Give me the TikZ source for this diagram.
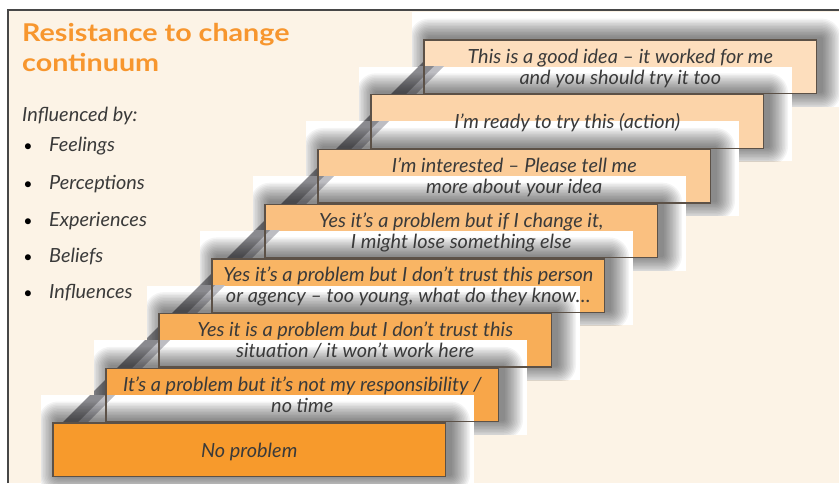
\documentclass[tikz,border=0pt]{standalone}
\usepackage{fontspec}
\setmainfont{Lato}
\newfontfamily\stepfont{Lato}[FakeStretch=1.02]
\newfontfamily\headfont{Lato}[FakeStretch=1.17]

\definecolor{cream}{HTML}{FCF3E6}
\definecolor{panelgray}{HTML}{474747}
\definecolor{edgebrown}{HTML}{5C5147}
\definecolor{inkgray}{HTML}{3A3A3A}
\definecolor{headorange}{HTML}{F7962E}
\definecolor{railgray}{HTML}{8A8A8F}
\definecolor{raillight}{HTML}{BDBDC2}
\definecolor{c1}{HTML}{F79A2C}
\definecolor{c2}{HTML}{F8A649}
\definecolor{c3}{HTML}{F8AE58}
\definecolor{c4}{HTML}{F9B564}
\definecolor{c5}{HTML}{FAC080}
\definecolor{c6}{HTML}{FBCC98}
\definecolor{c7}{HTML}{FCD4A9}
\definecolor{c8}{HTML}{FDDEBD}

% one stair: white backing, rail piece, soft shadow, then the box itself
\newcommand\drawstair[2]{%
  \pgfmathsetmacro\stL{53+(#1-1)*53}%
  \pgfmathsetmacro\stR{\stL+392.5}%
  \pgfmathsetmacro\stT{483-(423-(#1-1)*54.7)}%
  \pgfmathsetmacro\stB{\stT-53.5}%
  \fill[white] (\stL-12,\stT+28) rectangle (\stR+28,\stB-13);
  \begin{scope}
    \clip (\stL-12,\stT+28) rectangle (\stR+28,\stB-13);
    \fill[raillight] (76,60) -- (87,60) -- (450,423) -- (439,423) -- cycle;
    \fill[railgray] (62,60) -- (77,60) -- (440,423) -- (425,423) -- cycle;
    \foreach \e in {1.5,3,...,19.5}
      \fill[black,opacity=0.042,rounded corners=\e pt]
        (\stL+5-\e,\stT+2+\e) rectangle (\stR+5+\e,\stB+2-\e);
  \end{scope}
  \node[stairbox,fill=#2] (s#1) at (\stL,\stT) {};
}
% outline of a stair drawn again over the backing of the stair below
\newcommand\restroke[1]{%
  \draw[stairedge] (s#1.north west) rectangle (s#1.south east);
}

\begin{document}
\begin{tikzpicture}[x=1pt,y=1pt,
  stairbox/.style={draw=edgebrown,line width=1.3pt,inner sep=0pt,outer sep=0pt,
    minimum width=392.5pt,minimum height=53.5pt,anchor=north west},
  stairedge/.style={draw=edgebrown,line width=1.3pt},
  steptext/.style={font=\stepfont\itshape\fontsize{19.5}{21}\selectfont,
    text=inkgray,inner sep=0pt,anchor=base},
  sidetext/.style={font=\stepfont\itshape\fontsize{19.5}{21}\selectfont,
    text=inkgray,inner sep=0pt,anchor=base west},
  bullet/.style={font=\fontsize{16}{16}\selectfont,text=black,inner sep=0pt,anchor=base},
  headtext/.style={font=\headfont\bfseries\fontsize{24.5}{26}\selectfont,
    text=headorange,inner sep=0pt,anchor=base west}]
\useasboundingbox (0,0) rectangle (839,483);
\fill[white] (0,0) rectangle (839,483);
\fill[cream] (8,0) rectangle (839,473);
\draw[panelgray,line width=2pt] (8,0) -- (8,473) -- (839,473);

% stairs, top one first
\drawstair{8}{c8}
\drawstair{7}{c7}\restroke{8}
\drawstair{6}{c6}\restroke{7}
\drawstair{5}{c5}\restroke{6}
\drawstair{4}{c4}\restroke{5}
\drawstair{3}{c3}\restroke{4}
\drawstair{2}{c2}\restroke{3}
\drawstair{1}{c1}\restroke{2}

% stair labels
\node[steptext] (t8a) at ([yshift=-23pt]s8.north) {This is a good idea – it worked for me};
\node[steptext] (t8b) at ([yshift=-44pt]s8.north) {and you should try it too};
\node[steptext] (t7a) at ([yshift=-34pt]s7.north) {I’m ready to try this (action)};
\node[steptext] (t6a) at ([yshift=-23pt]s6.north) {I’m interested – Please tell me};
\node[steptext] (t6b) at ([yshift=-44pt]s6.north) {more about your idea};
\node[steptext] (t5a) at ([yshift=-23pt]s5.north) {Yes it’s a problem but if I change it,};
\node[steptext] (t5b) at ([yshift=-44pt]s5.north) {I might lose something else};
\node[steptext] (t4a) at ([yshift=-23pt]s4.north) {Yes it’s a problem but I don’t trust this person};
\node[steptext] (t4b) at ([yshift=-44pt]s4.north) {or agency – too young, what do they know…};
\node[steptext] (t3a) at ([yshift=-23pt]s3.north) {Yes it is a problem but I don’t trust this};
\node[steptext] (t3b) at ([yshift=-44pt]s3.north) {situation / it won’t work here};
\node[steptext] (t2a) at ([yshift=-23pt]s2.north) {It’s a problem but it’s not my responsibility /};
\node[steptext] (t2b) at ([yshift=-44pt]s2.north) {no time};
\node[steptext] (t1a) at ([yshift=-34pt]s1.north) {No problem};

% heading and list
\node[headtext] (h1) at (22,441) {Resistance to change};
\node[headtext] (h2) at (22,411) {continuum};
\node[sidetext] (inf) at (22,361) {Influenced by:};
\foreach \yy/\lab/\nm in {331/Feelings/l1,294/Perceptions/l2,257/Experiences/l3,221/Beliefs/l4,185/Influences/l5}{
  \node[bullet] (b\nm) at (28,\yy) {•};
  \node[sidetext] (\nm) at (49,\yy) {\lab};
}
\end{tikzpicture}
\end{document}
